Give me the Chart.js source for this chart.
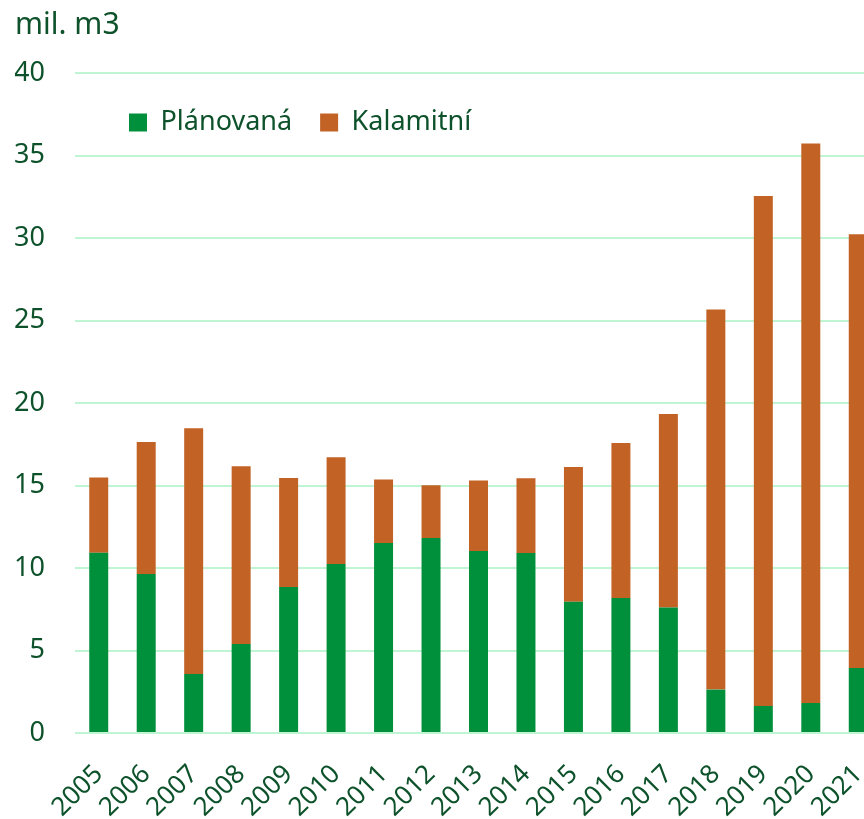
<!DOCTYPE html>
<html>
<head>
<meta charset="utf-8">
<script src="https://cdn.jsdelivr.net/npm/chart.js@4"></script>
<style>
    html, body { margin: 0; padding: 0; overflow: hidden; background: #fff; }
    #wrap { width: 882px; height: 819px; }
</style>
</head>
<body>
<div id="wrap"><canvas id="chart"></canvas></div>
<script>
const years = ['2005', '2006', '2007', '2008', '2009', '2010', '2011', '2012', '2013',
    '2014', '2015', '2016', '2017', '2018', '2019', '2020', '2021'];
// mil. m3
const planovana = [10.93, 9.64, 3.58, 5.39, 8.85, 10.24, 11.52, 11.82, 11.03,
    10.91, 7.96, 8.18, 7.60, 2.63, 1.64, 1.82, 3.94];
const kalamitni = [4.55, 8.00, 14.89, 10.77, 6.60, 6.47, 3.84, 3.19, 4.27,
    4.53, 8.16, 9.40, 11.73, 23.03, 30.91, 33.90, 26.28];
const yTicks = [0, 5, 10, 15, 20, 25, 30, 35, 40];

const textColor = '#0e522b';
Chart.defaults.font.family = '"Noto Sans", "Open Sans", sans-serif';
Chart.defaults.color = textColor;

// legend takes (almost) no room in the layout, then is moved inside the plot
const legendShift = {
    id: 'legendShift',
    afterLayout(chart) {
        const area = chart.chartArea;
        chart.legend.left = area.left + 26;
        chart.legend.right = area.right;
        chart.legend.top = area.top + 8;
        chart.legend.bottom = area.top + 90;
    }
};

const ctx = document.getElementById('chart').getContext('2d');
const chart = new Chart(ctx, {
    type: 'bar',
    data: {
        labels: years,
        datasets: [{
            label: 'Plánovaná',
            data: planovana,
            backgroundColor: '#008f3a',
            categoryPercentage: 0.4,
            barPercentage: 1
        }, {
            label: 'Kalamitní',
            data: kalamitni,
            backgroundColor: '#c26225',
            categoryPercentage: 0.4,
            barPercentage: 1
        }]
    },
    plugins: [legendShift],
    options: {
        responsive: true,
        maintainAspectRatio: false,
        animation: false,
        layout: { padding: { left: 15, right: 0, top: 0, bottom: 0 } },
        plugins: {
            title: {
                display: true,
                text: 'mil. m3',
                align: 'start',
                color: textColor,
                font: { size: 30, weight: 'normal', lineHeight: 1.2 },
                padding: { top: 7, bottom: 29 }
            },
            legend: {
                position: 'top',
                fullSize: false,
                maxHeight: 1,
                align: 'start',
                labels: {
                    boxWidth: 18,
                    boxHeight: 18,
                    padding: 28,
                    color: textColor,
                    font: { size: 27 }
                }
            },
            tooltip: { enabled: false }
        },
        scales: {
            x: {
                stacked: true,
                grid: { display: false, drawTicks: false },
                border: { display: false },
                ticks: {
                    autoSkip: false,
                    minRotation: 45,
                    maxRotation: 45,
                    padding: 26,
                    color: textColor,
                    font: { size: 26 }
                },
                afterFit(scale) {
                    scale.height = 86;
                    scale.paddingLeft = 0;
                    scale.paddingRight = 0;
                }
            },
            y: {
                stacked: true,
                min: 0,
                max: 40,
                afterBuildTicks(scale) {
                    scale.ticks = yTicks.map(v => ({ value: v }));
                },
                grid: { color: '#c0f5d4', lineWidth: 2, drawTicks: false },
                border: { display: false },
                ticks: {
                    padding: 30,
                    color: textColor,
                    font: { size: 27 }
                },
                afterFit(scale) { scale.width = 60; }
            }
        }
    }
});
</script>
</body>
</html>
